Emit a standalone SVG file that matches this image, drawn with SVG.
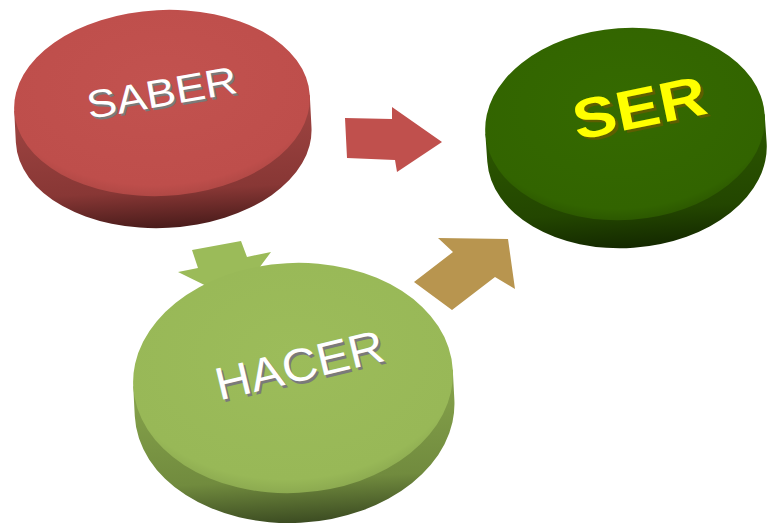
<svg xmlns="http://www.w3.org/2000/svg" width="767" height="525" viewBox="0 0 767 525">
  <defs>
    <linearGradient id="sideRed" x1="0" y1="0" x2="0" y2="1">
      <stop offset="0" stop-color="#A04542"/>
      <stop offset="0.7" stop-color="#883735"/>
      <stop offset="1" stop-color="#4A1C1B"/>
    </linearGradient>
    <linearGradient id="sideDark" x1="0" y1="0" x2="0" y2="1">
      <stop offset="0" stop-color="#2C5800"/>
      <stop offset="0.7" stop-color="#234600"/>
      <stop offset="1" stop-color="#142900"/>
    </linearGradient>
    <linearGradient id="sideLight" x1="0" y1="0" x2="0" y2="1">
      <stop offset="0" stop-color="#87A44C"/>
      <stop offset="0.7" stop-color="#718B3E"/>
      <stop offset="1" stop-color="#3C4C22"/>
    </linearGradient>
    <radialGradient id="topRed" cx="0.5" cy="0.4" r="0.6">
      <stop offset="0" stop-color="#C2524F"/>
      <stop offset="0.9" stop-color="#BE4E4B"/>
      <stop offset="1" stop-color="#B04845"/>
    </radialGradient>
    <radialGradient id="topDark" cx="0.5" cy="0.4" r="0.6">
      <stop offset="0" stop-color="#356A00"/>
      <stop offset="0.9" stop-color="#326400"/>
      <stop offset="1" stop-color="#2C5800"/>
    </radialGradient>
    <radialGradient id="topLight" cx="0.5" cy="0.4" r="0.6">
      <stop offset="0" stop-color="#9CBC5A"/>
      <stop offset="0.9" stop-color="#98B857"/>
      <stop offset="1" stop-color="#8CAA50"/>
    </radialGradient>
    <style>
      .lbl { font-family: "Liberation Sans", Arial, sans-serif; text-anchor: middle; }
      .white { fill: #FFFFFF; }
      .wshadow { fill: #7A7A7A; }
      .ser { fill: #FFFF00; font-weight: bold; }
      .sershadow { fill: #5E5E00; font-weight: bold; }
    </style>
  </defs>

  <g id="connectors">
    <polygon id="arrow-saber-ser" points="345,118 392,119 392,107 442,142 397,172 395,160 347,158" fill="#C0504D"/>
    <polygon id="arrow-saber-hacer" points="192,250 241,241 247,257 271,252 235,300 178,272 198,268" fill="#9BBB59"/>
    <polygon id="arrow-hacer-ser" points="438,238 508,239 515,289 495,277 452,310 414,282 453,252" fill="#B8954F"/>
  </g>

  <g id="node-saber" transform="rotate(-3 162 103)">
    <path d="M14,103 L14,135 A148,93 0 0 0 310,135 L310,103 Z" fill="url(#sideRed)"/>
    <ellipse cx="162" cy="103" rx="148" ry="93" fill="url(#topRed)"/>
    <text class="lbl wshadow" x="165.5" y="108.5" font-size="39" textLength="152" lengthAdjust="spacingAndGlyphs" transform="rotate(-7 164 106)">SABER</text>
    <text class="lbl white" x="164" y="106" font-size="39" textLength="152" lengthAdjust="spacingAndGlyphs" transform="rotate(-7 164 106)">SABER</text>
  </g>

  <g id="node-ser" transform="rotate(-4 625 124)">
    <path d="M485,124 L485,152 A140,96 0 0 0 765,152 L765,124 Z" fill="url(#sideDark)"/>
    <ellipse cx="625" cy="124" rx="140" ry="96" fill="url(#topDark)"/>
    <text class="lbl sershadow" x="645.5" y="131" font-size="56" textLength="135" lengthAdjust="spacingAndGlyphs" transform="rotate(-7.6 643 128)">SER</text>
    <text class="lbl ser" x="643" y="128" font-size="56" textLength="135" lengthAdjust="spacingAndGlyphs" transform="rotate(-7.6 643 128)">SER</text>
  </g>

  <g id="node-hacer" transform="rotate(-3 293 378)">
    <path d="M133,378 L133,408 A160,115 0 0 0 453,408 L453,378 Z" fill="url(#sideLight)"/>
    <ellipse cx="293" cy="378" rx="160" ry="115" fill="url(#topLight)"/>
    <text class="lbl wshadow" x="304.5" y="384" font-size="46" textLength="172" lengthAdjust="spacingAndGlyphs" transform="rotate(-10.5 303 381)">HACER</text>
    <text class="lbl white" x="303" y="381" font-size="46" textLength="172" lengthAdjust="spacingAndGlyphs" transform="rotate(-10.5 303 381)">HACER</text>
  </g>
</svg>
